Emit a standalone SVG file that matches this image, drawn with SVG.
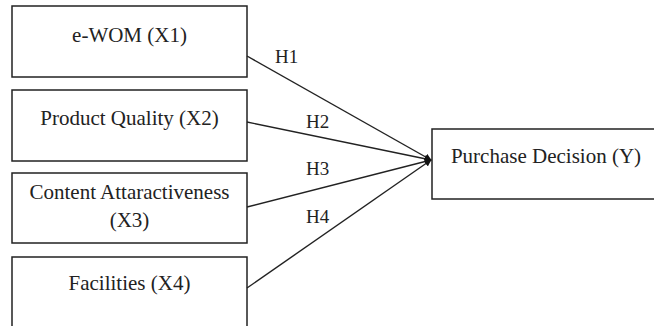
<svg xmlns="http://www.w3.org/2000/svg" width="654" height="326" viewBox="0 0 654 326">
<style>
.box{fill:#fff;stroke:#222;stroke-width:1.5}
.t{font-family:"Liberation Serif","Times New Roman",serif;font-size:21px;fill:#222;text-anchor:middle}
.h{font-family:"Liberation Serif","Times New Roman",serif;font-size:19px;fill:#222}
.c{stroke:#222;stroke-width:1.4;fill:none;marker-end:url(#ah)}
</style>
<defs>
<marker id="ah" viewBox="0 0 10 10" refX="9" refY="5" markerWidth="5" markerHeight="5" orient="auto" markerUnits="strokeWidth">
<path d="M0,0 L10,5 L0,10 z" fill="#111"/>
</marker>
</defs>
<rect width="654" height="326" fill="#fff"/>
<g id="x1"><rect class="box" x="12" y="6" width="235" height="71"/><text class="t" x="129.5" y="42">e-WOM (X1)</text></g>
<g id="x2"><rect class="box" x="12" y="90" width="235" height="71"/><text class="t" x="129.5" y="125">Product Quality (X2)</text></g>
<g id="x3"><rect class="box" x="12" y="173" width="235" height="70"/><text class="t" x="129.5" y="199">Content Attaractiveness</text><text class="t" x="129.5" y="227">(X3)</text></g>
<g id="x4"><rect class="box" x="12" y="257" width="235" height="80"/><text class="t" x="129.5" y="290">Facilities (X4)</text></g>
<g id="y"><rect class="box" x="432" y="129" width="240" height="70"/><text class="t" x="546" y="163">Purchase Decision (Y)</text></g>
<g id="connectors">
<line class="c" x1="247" y1="56" x2="431" y2="160"/>
<line class="c" x1="247" y1="122" x2="431" y2="160"/>
<line class="c" x1="247" y1="207" x2="431" y2="160"/>
<line class="c" x1="247" y1="288" x2="431" y2="160"/>
<text class="h" x="275" y="63">H1</text>
<text class="h" x="306" y="128">H2</text>
<text class="h" x="306" y="175">H3</text>
<text class="h" x="306" y="223">H4</text>
</g>
</svg>
